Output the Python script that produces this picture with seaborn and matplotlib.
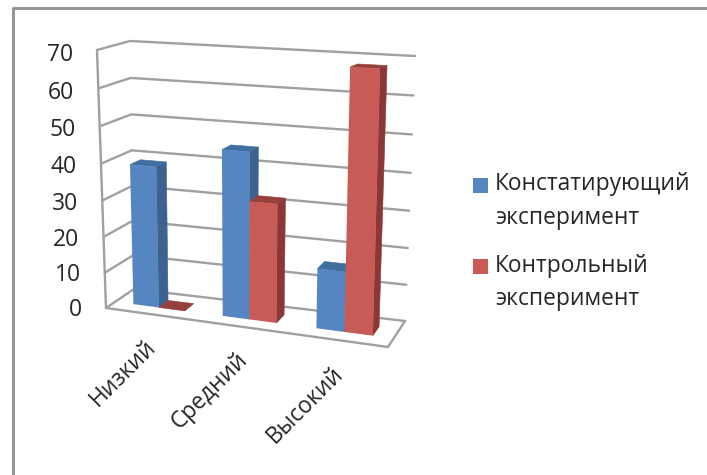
import numpy as np
import pandas as pd
import matplotlib
matplotlib.use("Agg")
import matplotlib.pyplot as plt
from matplotlib.colors import to_hex
from matplotlib.patches import Polygon, Rectangle
from matplotlib.transforms import Affine2D, Transform
import seaborn as sns

# Chart data
categories = ["Низкий", "Средний", "Высокий"]
series_names = ["Констатирующий\nэксперимент", "Контрольный\nэксперимент"]
ascertaining = [39, 45, 16]
control = [0, 32, 68]
y_ticks = [0, 10, 20, 30, 40, 50, 60, 70]

FRONT_COLORS = ["#5586c1", "#c95b56"]
SIDE_COLORS = ["#3c6290", "#8a3735"]
TOP_COLORS = ["#406e9e", "#96403d"]
GRID = "#a0a0a0"
TEXT = "#262626"

W, H = 707, 475
V_MAX = 70.0
BAR_WIDTH = 0.58
DEPTH_FRONT, DEPTH_BACK = 0.33, 0.68

# Corners of the chart box in pixels: (x side, depth side, value side)
CORNERS = {
    (0, 0, 0): (106, 308), (1, 0, 0): (388, 347),
    (0, 1, 0): (134, 289), (1, 1, 0): (405, 321),
    (0, 0, 1): (97, 50), (1, 0, 1): (396, 64),
    (0, 1, 1): (130, 41), (1, 1, 1): (415, 56),
}


def project(x, depth, value):
    """Map category position, depth and value onto the slanted chart box."""
    x, depth, value = np.broadcast_arrays(np.asarray(x, float), np.asarray(depth, float),
                                          np.asarray(value, float))
    u = (x + 0.5) / len(categories)
    u = u - 0.072 * u * (1 - u)
    w = value / V_MAX
    w = w - 0.05 * w * (1 - w)
    out = np.zeros(u.shape + (2,))
    for (i, j, k), corner in CORNERS.items():
        weight = (u if i else 1 - u) * (depth if j else 1 - depth) * (w if k else 1 - w)
        out = out + weight[..., None] * np.array(corner, float)
    return out


class FaceTransform(Transform):
    """Data (x, value) on a plane of constant depth, to figure pixels."""
    input_dims = output_dims = 2
    is_separable = False
    has_inverse = False

    def __init__(self, plane_depth):
        super().__init__()
        self.plane_depth = plane_depth

    def transform_non_affine(self, values):
        values = np.asarray(values, float)
        xy = project(values[:, 0], self.plane_depth, values[:, 1])
        return np.column_stack([xy[:, 0], H - xy[:, 1]])


sns.set_theme(style="white")
plt.rcParams["font.family"] = ["Open Sans", "DejaVu Sans"]

fig = plt.figure(figsize=(W / 100, H / 100), dpi=100, facecolor="white")
ax = fig.add_axes([0, 0, 1, 1])

df = pd.DataFrame({
    "category": categories * 2,
    "value": ascertaining + control,
    "series": [series_names[0]] * 3 + [series_names[1]] * 3,
})
sns.barplot(data=df, x="category", y="value", hue="series", hue_order=series_names,
            order=categories, palette=FRONT_COLORS, width=BAR_WIDTH, gap=0, saturation=1,
            errorbar=None, legend=False, ax=ax)
ax.set_axis_off()

pixel = Affine2D()  # display space, y measured from the bottom


def to_display(points):
    points = np.atleast_2d(points)
    return np.column_stack([points[:, 0], H - points[:, 1]])


def add_poly(points, color, z):
    ax.add_patch(Polygon(to_display(points), closed=True, transform=pixel, facecolor=color,
                         edgecolor=color, linewidth=0.4, zorder=z, clip_on=False))


def add_line(points, z=1, lw=1.7):
    xy = to_display(points)
    ax.plot(xy[:, 0], xy[:, 1], transform=pixel, color=GRID, lw=lw, zorder=z,
            solid_capstyle="round", solid_joinstyle="round", clip_on=False,
            scalex=False, scaley=False)


# Walls, gridlines and floor outline
x_left, x_right = -0.5, len(categories) - 0.5
for tick in y_ticks:
    add_line(project([x_left, x_left, x_right], [0, 1, 1], [tick, tick, tick]))
add_line(project([x_left, x_left], [0, 0], [0, V_MAX]))
add_line(project([x_left, x_right, x_right], [0, 0, 1], [0, 0, 0]))

# Bars: seaborn's rectangles become the front faces, side and top go behind them
front = FaceTransform(DEPTH_FRONT)
zorder = 3.0
bars = sorted((p for p in ax.patches if isinstance(p, Rectangle)), key=lambda p: p.get_x())
for bar in bars:
    x0, x1 = bar.get_x(), bar.get_x() + bar.get_width()
    value = bar.get_height()
    idx = FRONT_COLORS.index(to_hex(bar.get_facecolor()))
    add_poly(project(x1, [DEPTH_FRONT, DEPTH_BACK, DEPTH_BACK, DEPTH_FRONT], [0, 0, value, value]),
             SIDE_COLORS[idx], zorder)
    add_poly(project([x0, x1, x1, x0], [DEPTH_FRONT, DEPTH_FRONT, DEPTH_BACK, DEPTH_BACK], value),
             TOP_COLORS[idx], zorder + 0.1)
    bar.set_transform(front)
    bar.set_clip_on(False)
    bar.set_zorder(zorder + 0.2)
    bar.set_edgecolor("none")
    zorder += 1

# Value axis labels
for tick in y_ticks:
    px, py = project(x_left, 0, tick)
    ax.text(px - 24, H - py - 2 - 3 * tick / V_MAX, str(tick), transform=pixel, ha="right",
            va="center", fontsize=16.5, color=TEXT)

# Category labels, rotated along the diagonal
for i, name in enumerate(categories):
    px, py = project(i, 0, 0)
    ax.text(px + 2, H - py - 30, name, transform=pixel, rotation=45,
            rotation_mode="anchor", ha="right", va="center", fontsize=16.4, color=TEXT)

# Legend: a square and a two-line label per series
legend_rows = [185.5, 266.5]
for name, color, row in zip(series_names, FRONT_COLORS, legend_rows):
    fig.add_artist(Rectangle((473, H - row - 7.5), 15, 15, transform=pixel, facecolor=color,
                             edgecolor="none"))
    fig.text(495 / W, 1 - (row - 13) / H, name, ha="left", va="top", fontsize=16.4,
             color=TEXT, linespacing=1.55)

# Outer frame of the chart
fig.add_artist(plt.Line2D([13 / W, 13 / W, 1], [0, 1 - 7.5 / H, 1 - 7.5 / H],
                          color="#969696", lw=2.2, transform=fig.transFigure))

fig.savefig("out.png", dpi=100)
